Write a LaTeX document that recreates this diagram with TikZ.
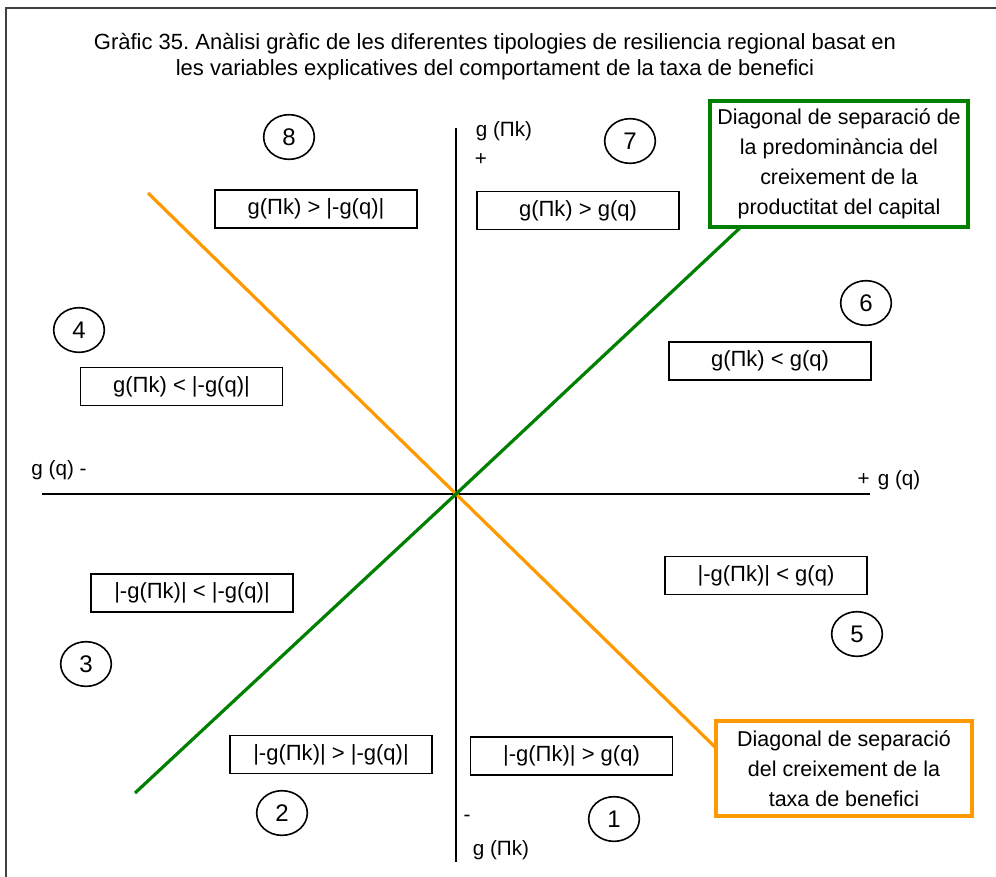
\documentclass[tikz,border=0pt]{standalone}
\usepackage{fontspec}
\setmainfont{Liberation Sans}
\usetikzlibrary{shapes.geometric}
\definecolor{orng}{HTML}{FF9900}
\definecolor{grn}{HTML}{008000}
\definecolor{frame}{HTML}{404040}
\frenchspacing
\begin{document}
\begin{tikzpicture}[x=0.75pt,y=-0.75pt,
  lbl/.style={font=\fontsize{15.5}{18}\selectfont, inner sep=0pt},
  cond/.style={draw, line width=1.3pt, minimum width=151.5pt, minimum height=28.5pt, inner sep=0pt, font=\fontsize{16.5}{18}\selectfont},
  num/.style={draw, ellipse, line width=1.2pt, minimum width=38pt, minimum height=33.5pt, inner sep=0pt, font=\fontsize{18}{18}\selectfont},
  axis/.style={line width=1.1pt},
  diagO/.style={orng, line width=2.4pt},
  diagG/.style={grn, line width=2.4pt},
  callout/.style={line width=2.3pt, fill=white, text=black, inner sep=0pt, align=center, font=\fontsize{16.1}{22.5}\selectfont}
]
\useasboundingbox (0,0) rectangle (996,876);
\fill[white] (0,0) rectangle (996,876);
\draw[frame, line width=1.6pt] (6,8) rectangle (1020,900);

% title
\node[align=center, font=\fontsize{16.5}{19.5}\selectfont] (title) at (495,57)
  {Gràfic 35. Anàlisi gràfic de les diferentes tipologies de resiliencia regional basat en\\
   les variables explicatives del comportament de la taxa de benefici};

% axes
\coordinate (yT) at (456,128);
\coordinate (yB) at (456,862);
\coordinate (xL) at (42,494);
\coordinate (xR) at (870,494);
\coordinate (o) at (456,494);
\draw[axis] (yT) -- (yB);
\draw[axis] (xL) -- (xR);

% axis labels
\node[lbl] (ytop) at (504,131) {g (Πk)};
\node[lbl] (yplus) at (481,160) {+};
\node[lbl] (yminus) at (467,818) {-};
\node[lbl] (ybot) at (501,850) {g (Πk)};
\node[lbl] (xleft) at (59,470) {g (q) -};
\node[lbl] (xright) at (889,480) {+\hspace{6pt}g (q)};

% diagonals
\coordinate (oA) at (148,193);
\coordinate (oB) at (716,748);
\coordinate (gA) at (135,793);
\coordinate (gB) at (742,226);
\draw[diagO] (oA) -- (o) -- (oB);
\draw[diagG] (gA) -- (o) -- (gB);

% callout boxes
\node[callout, draw=grn, minimum width=193.5pt, minimum height=94.5pt] (gbox) at (839,164)
  {Diagonal de separació de\\la predominància del\\creixement de la\\productitat del capital};
\node[callout, draw=orng, minimum width=192pt, minimum height=71.25pt] (obox) at (844,768.5)
  {Diagonal de separació\\del creixement de la\\taxa de benefici};

% condition boxes
\node[cond] (c8) at (316,209) {g(Πk) > |-g(q)|};
\node[cond] (c7) at (578,210.5) {g(Πk) > g(q)};
\node[cond] (c4) at (181.5,386.5) {g(Πk) < |-g(q)|};
\node[cond] (c6) at (770,361) {g(Πk) < g(q)};
\node[cond] (c5) at (766,575.5) {|-g(Πk)| < g(q)};
\node[cond] (c3) at (192,593) {|-g(Πk)| < |-g(q)|};
\node[cond] (c2) at (331,754.5) {|-g(Πk)| > |-g(q)|};
\node[cond] (c1) at (571.5,756) {|-g(Πk)| > g(q)};

% region numbers
\node[num] (n8) at (289,137) {8};
\node[num] (n7) at (630,141) {7};
\node[num] (n6) at (866,303) {6};
\node[num] (n4) at (79,330) {4};
\node[num] (n5) at (857,634) {5};
\node[num] (n3) at (86,664) {3};
\node[num] (n2) at (282,813) {2};
\node[num] (n1) at (614,819) {1};
\end{tikzpicture}
\end{document}
